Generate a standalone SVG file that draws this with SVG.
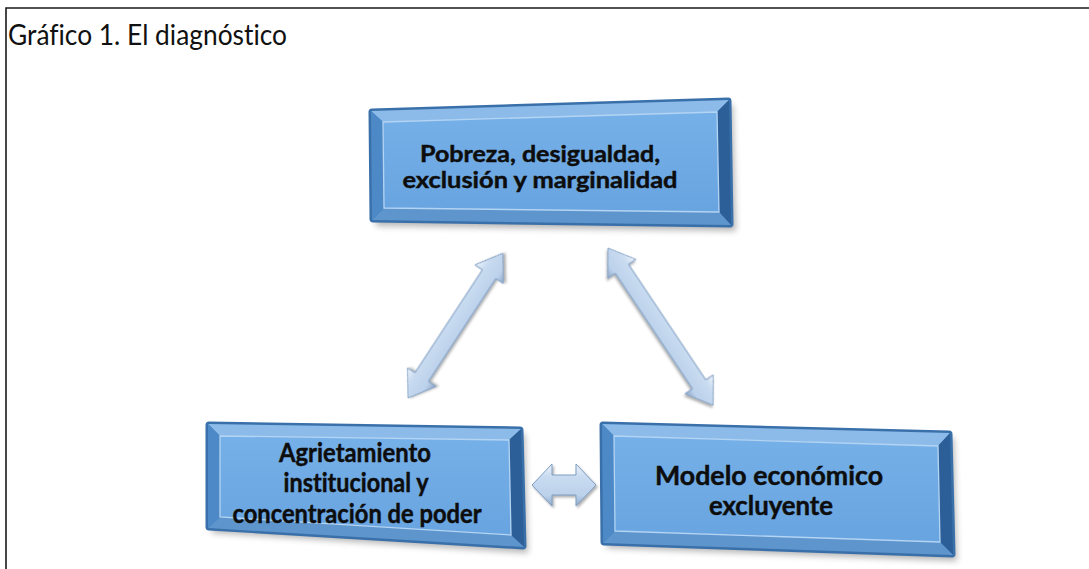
<svg xmlns="http://www.w3.org/2000/svg" width="1089" height="569" viewBox="0 0 1089 569">
<style>
.frame{fill:none;stroke:#1a1a1a;stroke-width:1.6}
.title{font-family:Lato,"Liberation Sans",sans-serif;font-size:28px;fill:#111;font-variant-ligatures:none}
.lbl{font-family:Lato,"Liberation Sans",sans-serif;font-weight:bold;fill:#0d0d0d;stroke:#0d0d0d;stroke-width:0.45;text-anchor:middle;font-variant-ligatures:none}
.outer{fill:#3f78b5;stroke:#3a70aa;stroke-width:7;stroke-linejoin:round}
.bt{fill:#8cbbea}
.br{fill:#2c5f97}
.bb{fill:#5e95cd}
.bl{fill:#4d89c7}
.face{fill:url(#faceG);stroke:#b4d4f3;stroke-width:1.3}
.shadow{fill:#7a7a7a;opacity:.55;filter:url(#blur)}
.arrow{fill:url(#arrG);stroke:#7f9dc2;stroke-width:1;stroke-linejoin:miter;filter:url(#ash)}
</style>
<defs>
<linearGradient id="faceG" x1="0" y1="0" x2="0" y2="1">
<stop offset="0" stop-color="#76b0e8"/>
<stop offset="1" stop-color="#68a4e0"/>
</linearGradient>
<linearGradient id="arrG" x1="0" y1="0" x2="0" y2="1">
<stop offset="0" stop-color="#eef4fb"/>
<stop offset="0.3" stop-color="#c8dbf0"/>
<stop offset="0.75" stop-color="#bcd1eb"/>
<stop offset="1" stop-color="#8fa9c9"/>
</linearGradient>
<filter id="blur" x="-10%" y="-10%" width="120%" height="130%">
<feGaussianBlur stdDeviation="3"/>
</filter>
<filter id="ash" x="-20%" y="-20%" width="140%" height="140%">
<feDropShadow dx="1.5" dy="2" stdDeviation="1.2" flood-color="#555" flood-opacity="0.45"/>
</filter>
</defs>
<rect width="1089" height="569" fill="#fff"/>
<path class="frame" d="M6,569 V8 H1089"/>
<text class="title" x="8" y="45" textLength="279" lengthAdjust="spacingAndGlyphs">Gráfico 1. El diagnóstico</text>

<g id="connectors">
<path class="arrow" transform="translate(408,398) rotate(-56.77)" d="M0,0 L25,-17 L25,-8 L148,-8 L148,-17 L173,0 L148,17 L148,8 L25,8 L25,17 Z"/>
<path class="arrow" transform="translate(608,248) rotate(56.23)" d="M0,0 L25,-17 L25,-8 L164,-8 L164,-17 L189,0 L164,17 L164,8 L25,8 L25,17 Z"/>
<path class="arrow" d="M532,485 L552,464 L552,475 L576,475 L576,464 L596,485 L576,506 L576,495 L552,495 L552,506 Z"/>
</g>

<g id="node-pobreza">
<polygon class="shadow" points="375,116 733,105 736,231 376,226"/>
<polygon class="outer" points="372,112 728,101 730,224 373,219"/>
<polygon class="bt" points="371,111 729,100 717,112 383,122"/>
<polygon class="br" points="729,100 731,225 719,212 717,112"/>
<polygon class="bb" points="731,225 372,220 384,208 719,212"/>
<polygon class="bl" points="372,220 371,111 383,122 384,208"/>
<polygon class="face" points="383,122 717,112 719,212 384,208"/>
<text class="lbl" font-size="23" x="540" y="162" textLength="240" lengthAdjust="spacingAndGlyphs">Pobreza, desigualdad,</text>
<text class="lbl" font-size="23" x="540" y="188" textLength="275" lengthAdjust="spacingAndGlyphs">exclusión y marginalidad</text>
</g>

<g id="node-agrietamiento">
<polygon class="shadow" points="211,429 525,434 528,553 212,533"/>
<polygon class="outer" points="209,425 520,430 523,546 209,527"/>
<polygon class="bt" points="208,424 521,429 509,440 220,436"/>
<polygon class="br" points="521,429 524,547 511,535 509,440"/>
<polygon class="bb" points="524,547 208,528 220,517 511,535"/>
<polygon class="bl" points="208,528 208,424 220,436 220,517"/>
<polygon class="face" points="220,436 509,440 511,535 220,517"/>
<text class="lbl" font-size="26" x="355" y="462" textLength="152" lengthAdjust="spacingAndGlyphs">Agrietamiento</text>
<text class="lbl" font-size="26" x="356" y="492" textLength="145" lengthAdjust="spacingAndGlyphs">institucional y</text>
<text class="lbl" font-size="26" x="357" y="523" textLength="249" lengthAdjust="spacingAndGlyphs">concentración de poder</text>
</g>

<g id="node-modelo">
<polygon class="shadow" points="606,429 954,438 957,561 607,548"/>
<polygon class="outer" points="603,425 949,434 952,554 604,542"/>
<polygon class="bt" points="602,424 950,433 938,446 614,436"/>
<polygon class="br" points="950,433 953,555 940,542 938,446"/>
<polygon class="bb" points="953,555 603,543 615,531 940,542"/>
<polygon class="bl" points="603,543 602,424 614,436 615,531"/>
<polygon class="face" points="614,436 938,446 940,542 615,531"/>
<text class="lbl" font-size="26" x="769" y="485" textLength="228" lengthAdjust="spacingAndGlyphs">Modelo económico</text>
<text class="lbl" font-size="26" x="771" y="515" textLength="124" lengthAdjust="spacingAndGlyphs">excluyente</text>
</g>
</svg>
